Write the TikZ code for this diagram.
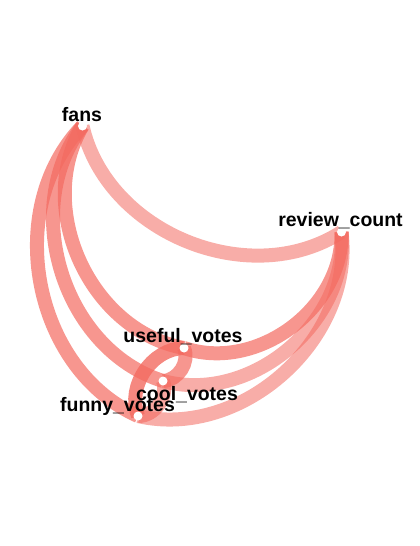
\documentclass[tikz,border=0pt]{standalone}
\usepackage{fontspec}
\setmainfont{Liberation Sans}
\usetikzlibrary{backgrounds}

\definecolor{edgered}{RGB}{243,106,96}

\begin{document}
\begin{tikzpicture}[
    x=0.75pt, y=-0.75pt,
    var/.style={circle, fill=white, inner sep=0pt, minimum size=6.75pt},
    lbl/.style={anchor=base, inner sep=0pt, font=\fontsize{14.6}{17}\selectfont\bfseries},
    link/.style={draw=edgered, line width=10.5pt, bend right=55}
]
\useasboundingbox (0,0) rectangle (420,546);
% variables
\node[var] (fans) at (82.5,126) {};
\node[var] (review) at (341.5,232) {};
\node[var] (useful) at (184,348) {};
\node[var] (cool) at (163,381) {};
\node[var] (funny) at (138,416) {};
% correlation links
\begin{scope}[on background layer]
\draw[link, draw opacity=.55] (fans.center) to (review.center);
\draw[link, draw opacity=.7] (fans.center) to (useful.center);
\draw[link, draw opacity=.7] (fans.center) to (cool.center);
\draw[link, draw opacity=.7] (fans.center) to (funny.center);
\draw[link, draw opacity=.7] (useful.center) to (review.center);
\draw[link, draw opacity=.55] (cool.center) to (review.center);
\draw[link, draw opacity=.55] (funny.center) to (review.center);
\draw[link, draw opacity=.8] (useful.center) to (funny.center);
\draw[link, draw opacity=.7] (cool.center) to (useful.center);
\draw[link, draw opacity=.6] (funny.center) to (cool.center);
\end{scope}
% labels
\node[lbl] (fans label) at (82,121) {fans};
\node[lbl] (review label) at (340.5,226) {review\_count};
\node[lbl] (useful label) at (183,342) {useful\_votes};
\node[lbl] (cool label) at (187,400) {cool\_votes};
\node[lbl] (funny label) at (117.5,411) {funny\_votes};
\end{tikzpicture}
\end{document}
